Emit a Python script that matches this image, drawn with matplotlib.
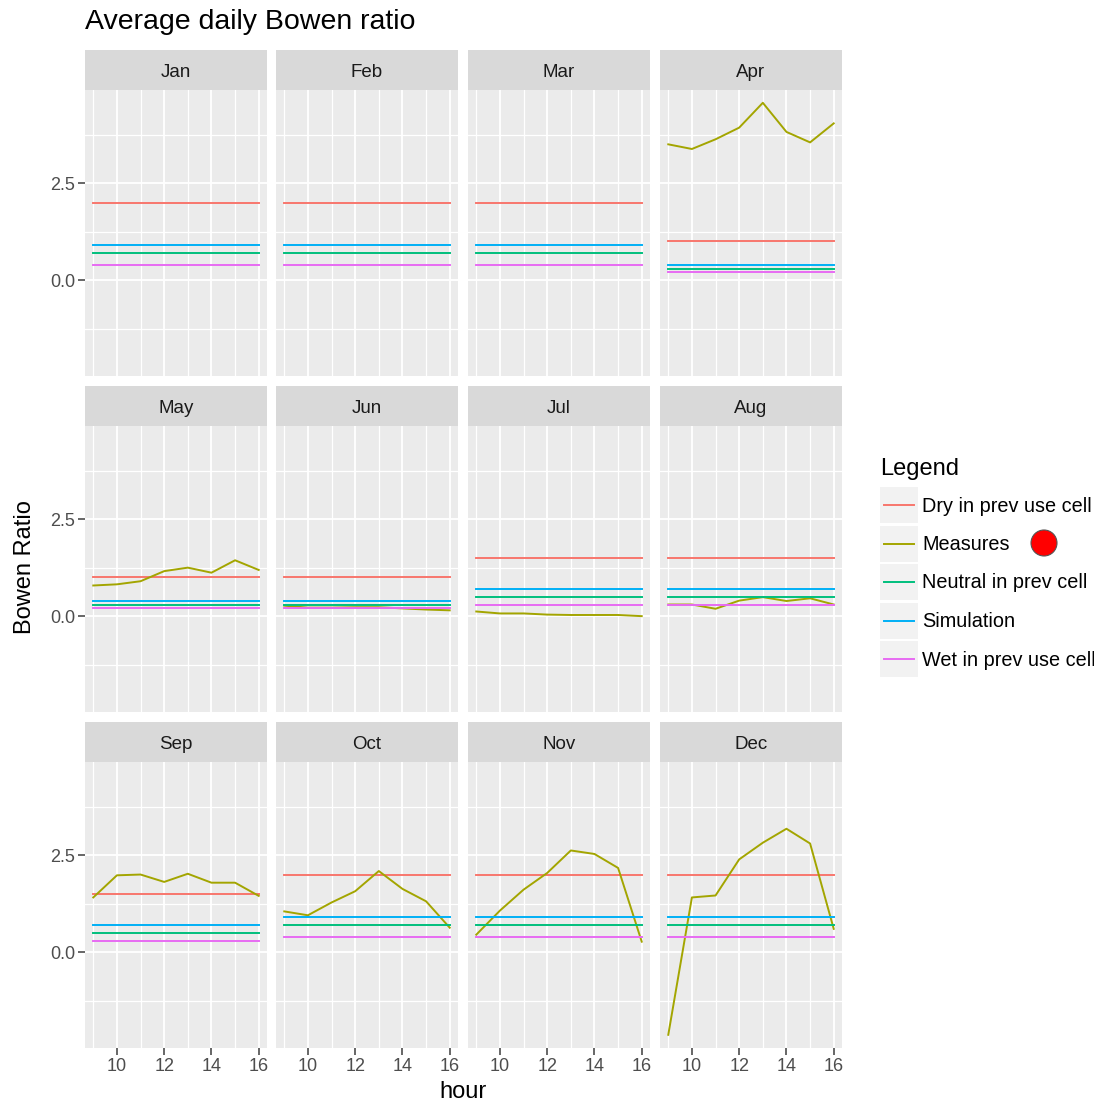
import numpy as np
import matplotlib
matplotlib.use("Agg")
import matplotlib.pyplot as plt
from matplotlib.patches import Rectangle, Ellipse
from matplotlib.lines import Line2D

plt.rcParams['font.family'] = ['Liberation Sans', 'DejaVu Sans']

# --- data ---
months = ["Jan", "Feb", "Mar", "Apr", "May", "Jun",
          "Jul", "Aug", "Sep", "Oct", "Nov", "Dec"]
hours = [9, 10, 11, 12, 13, 14, 15, 16]

dry_vals = [2.0, 2.0, 2.0, 1.0, 1.0, 1.0, 1.5, 1.5, 1.5, 2.0, 2.0, 2.0]
sim_vals = [0.9, 0.9, 0.9, 0.4, 0.4, 0.4, 0.7, 0.7, 0.7, 0.9, 0.9, 0.9]
neutral_vals = [0.7, 0.7, 0.7, 0.3, 0.3, 0.3, 0.5, 0.5, 0.5, 0.7, 0.7, 0.7]
wet_vals = [0.4, 0.4, 0.4, 0.2, 0.2, 0.2, 0.3, 0.3, 0.3, 0.4, 0.4, 0.4]

meas_apr = [3.50, 3.38, 3.63, 3.93, 4.57, 3.82, 3.55, 4.04]
meas_may = [0.79, 0.82, 0.90, 1.16, 1.25, 1.12, 1.44, 1.19]
meas_jun = [0.27, 0.22, 0.22, 0.23, 0.23, 0.20, 0.17, 0.15]
meas_jul = [0.12, 0.07, 0.07, 0.04, 0.03, 0.03, 0.03, 0.00]
meas_aug = [0.30, 0.30, 0.19, 0.40, 0.49, 0.39, 0.46, 0.30]
meas_sep = [1.41, 1.98, 2.00, 1.81, 2.02, 1.79, 1.79, 1.45]
meas_oct = [1.05, 0.95, 1.28, 1.57, 2.09, 1.63, 1.31, 0.63]
meas_nov = [0.45, 1.07, 1.61, 2.04, 2.62, 2.53, 2.17, 0.27]
meas_dec = [-2.13, 1.41, 1.46, 2.39, 2.82, 3.18, 2.80, 0.60]
measures = {"Apr": meas_apr, "May": meas_may, "Jun": meas_jun, "Jul": meas_jul,
            "Aug": meas_aug, "Sep": meas_sep, "Oct": meas_oct, "Nov": meas_nov,
            "Dec": meas_dec}

series_names = ["Dry in prev use cell", "Measures", "Neutral in prev cell",
                "Simulation", "Wet in prev use cell"]
colors = {"Dry in prev use cell": "#F8766D", "Measures": "#A3A500",
          "Neutral in prev cell": "#00BF7D", "Simulation": "#00B0F6",
          "Wet in prev use cell": "#E76BF3"}

W, H = 1094, 1103
fig = plt.figure(figsize=(W / 100, H / 100), dpi=100)
fig.patch.set_facecolor("white")

def fx(px):
    return px / W

def fy(py):
    return 1 - py / H

col_x = [85, 276, 468, 660]
panel_w = 182
row_strip_top = [50, 386, 722]
strip_h = 40
panel_h = 286
text_col = "#4D4D4D"

for i, m in enumerate(months):
    r, c = divmod(i, 4)
    x0 = col_x[c]
    st = row_strip_top[r]
    pt = st + strip_h
    ax = fig.add_axes([fx(x0), fy(pt + panel_h), panel_w / W, panel_h / H])
    ax.set_facecolor("#EBEBEB")
    for s in ax.spines.values():
        s.set_visible(False)
    ax.set_xlim(8.65, 16.35)
    ax.set_ylim(-2.47, 4.9)
    ax.set_xticks([10, 12, 14, 16])
    ax.set_xticks([9, 11, 13, 15], minor=True)
    ax.set_yticks([0.0, 2.5])
    ax.set_yticks([-1.25, 1.25, 3.75], minor=True)
    ax.grid(which="major", color="white", lw=1.3)
    ax.grid(which="minor", color="white", lw=0.9)
    ax.set_axisbelow(True)
    ax.tick_params(which="minor", length=0)
    ax.tick_params(which="major", length=5, width=1.2, color=text_col,
                   labelcolor=text_col, labelsize=13, pad=2)
    if c == 0:
        ax.set_yticklabels(["0.0", "2.5"])
    else:
        ax.tick_params(axis="y", which="major", length=0, labelleft=False)
    if r == 2:
        ax.set_xticklabels(["10", "12", "14", "16"])
    else:
        ax.tick_params(axis="x", which="major", length=0, labelbottom=False)

    ax.plot(hours, [dry_vals[i]] * len(hours), color=colors["Dry in prev use cell"], lw=1.4)
    if m in measures:
        ax.plot(hours, measures[m], color=colors["Measures"], lw=1.4)
    ax.plot(hours, [neutral_vals[i]] * len(hours), color=colors["Neutral in prev cell"], lw=1.4)
    ax.plot(hours, [sim_vals[i]] * len(hours), color=colors["Simulation"], lw=1.4)
    ax.plot(hours, [wet_vals[i]] * len(hours), color=colors["Wet in prev use cell"], lw=1.4)

    # facet strip
    sax = fig.add_axes([fx(x0), fy(pt), panel_w / W, strip_h / H])
    sax.set_facecolor("#D9D9D9")
    sax.set_xticks([])
    sax.set_yticks([])
    for s in sax.spines.values():
        s.set_visible(False)
    sax.text(0.5, 0.44, m, ha="center", va="center", fontsize=13.5, color="#1A1A1A")

fig.text(fx(85), fy(22), "Average daily Bowen ratio", fontsize=20.5,
         ha="left", va="center", color="black")
fig.text(fx(25), fy(567), "Bowen Ratio", rotation=90, fontsize=17,
         ha="center", va="center")
fig.text(fx(463), fy(1092), "hour", fontsize=17, ha="center", va="center")

# legend drawn by hand to get ggplot-style key boxes
fig.text(fx(880), fy(469), "Legend", fontsize=17, ha="left", va="center")
for k, name in enumerate(series_names):
    cy = 505 + 38.5 * k
    fig.patches.append(Rectangle((fx(880), fy(cy + 18)), 38 / W, 36 / H,
                                 transform=fig.transFigure, facecolor="#F2F2F2",
                                 edgecolor="none"))
    fig.lines.append(Line2D([fx(884), fx(914)], [fy(cy), fy(cy)],
                            transform=fig.transFigure, color=colors[name], lw=1.4))
    fig.text(fx(922), fy(cy + 1), name, fontsize=14.3, ha="left", va="center")

# red marker next to "Measures"
fig.patches.append(Ellipse((fx(1044), fy(543)), 26 / W, 26 / H,
                           transform=fig.transFigure, facecolor="#FF0000",
                           edgecolor="#555555", lw=0.8))

fig.savefig("out.png", dpi=100)
